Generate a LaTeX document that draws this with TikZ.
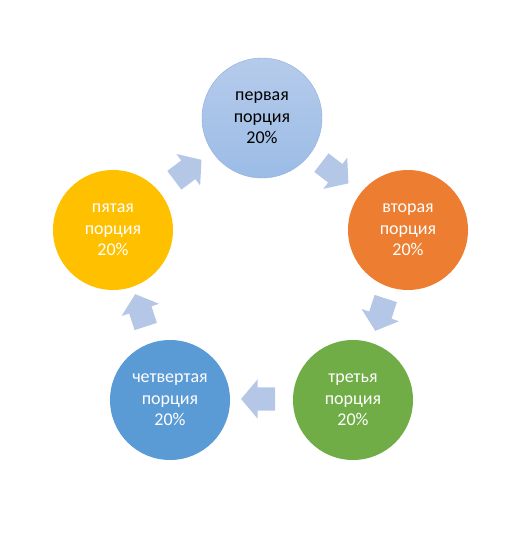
\documentclass[tikz,border=0pt]{standalone}
\usepackage{fontspec}
\setmainfont{Carlito}
\usetikzlibrary{shapes.arrows}
\definecolor{c_first_top}{HTML}{B5CBEB}
\definecolor{c_first_bottom}{HTML}{9CBCE6}
\definecolor{c_first_border}{HTML}{8DAEDC}
\definecolor{c_second}{HTML}{ED7D31}
\definecolor{c_third}{HTML}{70AD47}
\definecolor{c_fourth}{HTML}{5B9BD5}
\definecolor{c_fifth}{HTML}{FFC000}
\definecolor{c_arrow}{HTML}{B4C7E7}
\tikzset{PORTION/.style={circle,minimum size=120pt,inner sep=0pt,align=center,font=\fontsize{18}{21.5}\selectfont,text=white}}
\tikzset{STEP_ARROW/.style={single arrow,fill=c_arrow,minimum height=34pt,single arrow head extend=8pt,single arrow tip angle=100,inner xsep=4pt,inner ysep=11.5pt}}

\begin{document}
\begin{tikzpicture}[x=1pt,y=-1pt]

\useasboundingbox (0,0) rectangle (522,537);

\node[PORTION, top color=c_first_top, bottom color=c_first_bottom, draw=c_first_border, text=black] (n_first) at (262,118) {первая\\порция\\20\%};
\node[PORTION, fill=c_second] (n_second) at (408,230) {вторая\\порция\\20\%};
\node[PORTION, fill=c_third] (n_third) at (353,400) {третья\\порция\\20\%};
\node[PORTION, fill=c_fourth] (n_fourth) at (170,400) {четвертая\\порция\\20\%};
\node[PORTION, fill=c_fifth] (n_fifth) at (113,230) {пятая\\порция\\20\%};

\node[STEP_ARROW, rotate=-37.5] (a_first_second) at (331,170) {};
\node[STEP_ARROW, rotate=-108] (a_second_third) at (382,310) {};
\node[STEP_ARROW, rotate=180] (a_third_fourth) at (263,399) {};
\node[STEP_ARROW, rotate=108] (a_fourth_fifth) at (142,315) {};
\node[STEP_ARROW, rotate=37] (a_fifth_first) at (184,173) {};

\end{tikzpicture}
\end{document}
